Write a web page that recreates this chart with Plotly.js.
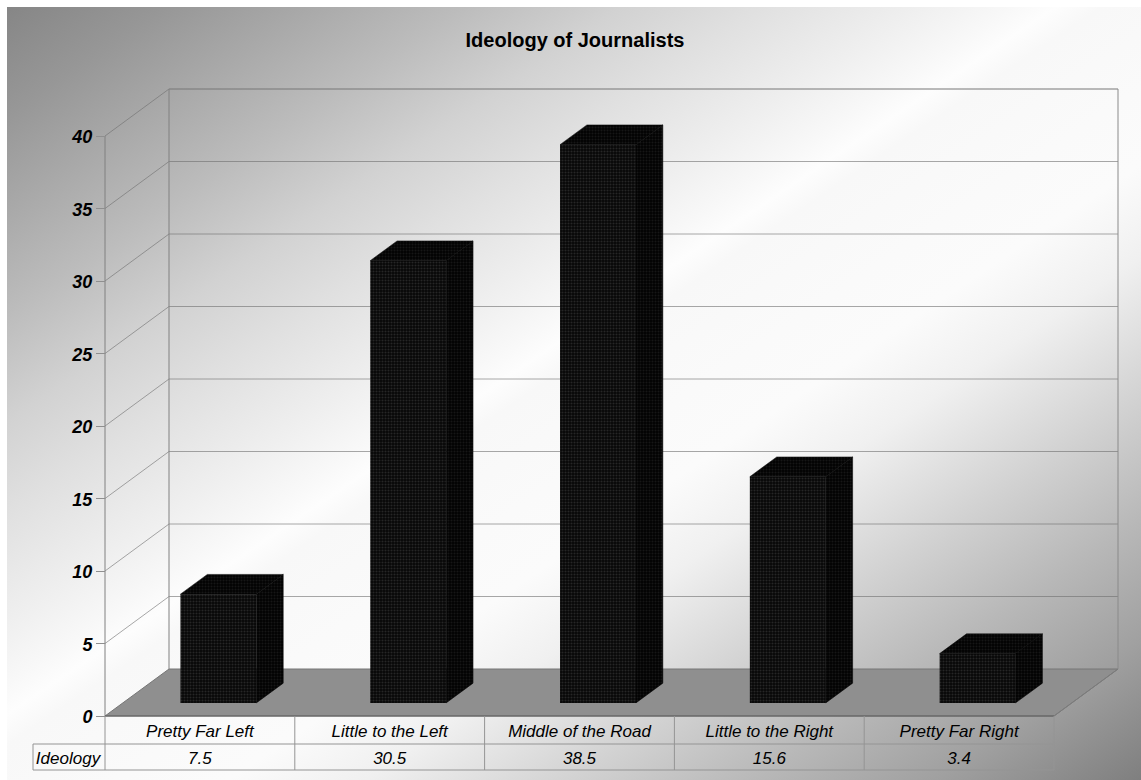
<!DOCTYPE html>
<html>
<head>
<meta charset="utf-8">
<script src="https://cdn.plot.ly/plotly-3.0.1.min.js"></script>
<style>
  html, body { margin: 0; padding: 0; background: #fff; }
  #panel {
    position: absolute; left: 7px; top: 7px; width: 1134px; height: 773px;
    background: linear-gradient(146deg,
      #868686 0%, #979797 7%, #a8a8a8 13%, #bcbcbc 20%, #d2d2d2 27%, #e0e0e0 33%, #efefef 40%,
      #f8f8f8 44%, #fdfdfd 46%, #f8f8f8 48%, #fafafa 55%, #fbfbfb 60%, #f0f0f0 66%,
      #d2d2d2 75%, #b8b8b8 83%, #a0a0a0 91%, #7f7f7f 100%);
  }
  #chart { position: absolute; left: 0; top: 0; width: 1141px; height: 780px; }
</style>
</head>
<body>
<div id="panel"></div>
<div id="chart"></div>
<script>
const categories = ['Pretty Far Left', 'Little to the Left', 'Middle of the Road', 'Little to the Right', 'Pretty Far Right'];
const ideology = [7.5, 30.5, 38.5, 15.6, 3.4];
const rowLabel = 'Ideology';
const valueTicks = [0, 5, 10, 15, 20, 25, 30, 35, 40];

// Page geometry of the front plane of the oblique box
const W = 1141, H = 780;
const X0 = 105, PX_PER_CAT = 189.8;
const Y0 = 716, PX_PER_UNIT = 14.5;
// Shift of the back wall, converted to axis units
const DX = 64 / PX_PER_CAT, DY = 47 / PX_PER_UNIT;
// Row lines of the table under the floor, in axis units
const ROW1 = -(744 - Y0) / PX_PER_UNIT, ROW2 = -(770 - Y0) / PX_PER_UNIT;
const ROW_LEFT = (33 - X0) / PX_PER_CAT;
const N = categories.length;

const BAR_W = 0.4, GAP = 0.3, D_FRONT = 0.3, D_BACK = 0.72;
// Small nudge of the boxes on the floor
const NUDGE_X = -0.7 / PX_PER_CAT, NUDGE_Y = -1 / PX_PER_UNIT;
const proj = (c, v, d) => [c + d * DX, v + d * DY];

const font = 'Liberation Sans, Arial, sans-serif';
const line = (x0, y0, x1, y1, color, width) => ({
  type: 'line', xref: 'x', yref: 'y', layer: 'below', x0, y0, x1, y1,
  line: { color: color, width: width || 1 }
});

// Floor, walls, gridlines and table rules
const shapes = [];
const f = [proj(0, 0, 0), proj(N, 0, 0), proj(N, 0, 1), proj(0, 0, 1)];
shapes.push({
  type: 'path', xref: 'x', yref: 'y', layer: 'below',
  path: 'M' + f.map(p => p.join(' ')).join(' L') + ' Z',
  fillcolor: '#8f8f8f', line: { color: '#767676', width: 1 }
});
const gridColor = 'rgba(110,110,110,0.6)';
valueTicks.forEach(v => {
  if (v > 0) {
    shapes.push(line(DX, v + DY, N + DX, v + DY, v === 40 ? '#777777' : gridColor));
    shapes.push(line(0, v, DX, v + DY, gridColor));
  }
});
const maxTick = valueTicks[valueTicks.length - 1];
shapes.push(line(0, 0, 0, maxTick, '#808080'));
shapes.push(line(DX, DY, DX, maxTick + DY, '#808080'));
shapes.push(line(N + DX, DY, N + DX, maxTick + DY, '#8a8a8a'));
shapes.push(line(N, 0, N + DX, DY, '#7c7c7c'));
shapes.push(line(0, 0, N, 0, '#5e5e5e'));
const rule = '#949494';
shapes.push(line(ROW_LEFT, ROW1, N, ROW1, rule));
shapes.push(line(ROW_LEFT, ROW2, N, ROW2, rule));
shapes.push(line(ROW_LEFT, ROW1, ROW_LEFT, ROW2, rule));
for (let i = 0; i <= N; i++) shapes.push(line(i, 0, i, ROW2, rule));

// Front faces are regular bars standing on the shifted floor
const frontFaces = {
  type: 'bar',
  x: categories.map((_, i) => i + 0.5 + D_FRONT * DX + NUDGE_X),
  y: ideology,
  base: ideology.map(() => D_FRONT * DY + NUDGE_Y),
  width: BAR_W,
  marker: {
    color: '#070707',
    line: { width: 0 },
    pattern: { shape: '.', fgcolor: '#262626', bgcolor: '#060606', size: 3, solidity: 0.4 }
  },
  hoverinfo: 'skip'
};

// Side and top faces of each box
const faceTraces = [];
const dark = { shape: '.', fgcolor: '#161616', bgcolor: '#020202', size: 3, solidity: 0.35 };
ideology.forEach((v, i) => {
  const l = i + GAP, r = l + BAR_W;
  const side = [proj(r, 0, D_FRONT), proj(r, 0, D_BACK), proj(r, v, D_BACK), proj(r, v, D_FRONT)];
  const cap = [proj(l, v, D_FRONT), proj(r, v, D_FRONT), proj(r, v, D_BACK), proj(l, v, D_BACK)];
  [side, cap].forEach(poly => faceTraces.push({
    type: 'scatter', mode: 'lines', fill: 'toself',
    x: poly.map(p => p[0] + NUDGE_X).concat(poly[0][0] + NUDGE_X),
    y: poly.map(p => p[1] + NUDGE_Y).concat(poly[0][1] + NUDGE_Y),
    fillcolor: '#030303', fillpattern: dark,
    line: { color: '#030303', width: 0.5 },
    hoverinfo: 'skip'
  }));
});

// Table row holding the values, centred a little under the middle of the row
const VALUE_ROW_Y = (ROW1 + ROW2) / 2 - 2.5 / PX_PER_UNIT;
const tableValues = {
  type: 'scatter', mode: 'text',
  x: categories.map((_, i) => i + 0.5),
  y: ideology.map(() => VALUE_ROW_Y),
  text: ideology.map(v => v.toFixed(1)),
  textposition: 'middle center',
  textfont: { family: font, size: 17, color: '#000', style: 'italic' },
  hoverinfo: 'skip'
};
const tableHead = {
  type: 'scatter', mode: 'text',
  x: [ROW_LEFT / 2 - 1 / PX_PER_CAT], y: [VALUE_ROW_Y], text: [rowLabel],
  textposition: 'middle center',
  textfont: { family: font, size: 17, color: '#000', style: 'italic' },
  hoverinfo: 'skip'
};

const layout = {
  width: W, height: H,
  margin: { l: 0, r: 0, t: 0, b: 0, pad: 0 },
  paper_bgcolor: 'rgba(0,0,0,0)',
  plot_bgcolor: 'rgba(0,0,0,0)',
  showlegend: false,
  title: {
    text: '<b>Ideology of Journalists</b>',
    x: 575 / W, xanchor: 'center', y: 1 - 40 / H, yanchor: 'middle',
    font: { family: font, size: 20, color: '#000' }
  },
  xaxis: {
    range: [-X0 / PX_PER_CAT, (W - X0) / PX_PER_CAT],
    domain: [0, 1], anchor: 'free', position: (H - Y0) / H,
    tickmode: 'array',
    tickvals: categories.map((_, i) => i + 0.5),
    ticktext: categories,
    ticks: '', showgrid: false, zeroline: false, showline: false,
    ticklabelstandoff: 3,
    tickfont: { family: font, size: 17, color: '#000', style: 'italic' }
  },
  yaxis: {
    range: [-(H - Y0) / PX_PER_UNIT, Y0 / PX_PER_UNIT],
    domain: [0, 1], anchor: 'free', position: X0 / W,
    tickmode: 'array', tickvals: valueTicks,
    ticks: 'outside', ticklen: 9, tickcolor: '#8f8f8f', tickwidth: 1,
    ticklabelshift: 1,
    showgrid: false, zeroline: false, showline: false,
    tickfont: { family: font, size: 18, color: '#000', style: 'italic', weight: 700 }
  },
  shapes: shapes
};

Plotly.newPlot('chart', [frontFaces].concat(faceTraces, [tableValues, tableHead]), layout,
  { displayModeBar: false, staticPlot: true });
</script>
</body>
</html>
